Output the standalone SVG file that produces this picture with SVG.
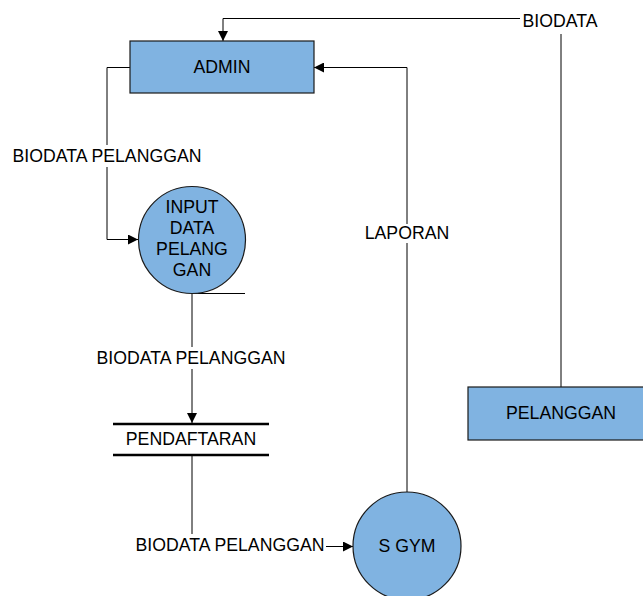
<svg xmlns="http://www.w3.org/2000/svg" width="643" height="596" viewBox="0 0 643 596">
<defs>
<marker id="arr" viewBox="0 0 10 10" refX="10" refY="5" markerWidth="10" markerHeight="10" markerUnits="userSpaceOnUse" orient="auto">
<path d="M0,0 L10,5 L0,10 Z" fill="#000"/>
</marker>
<style>
.t{font-family:"Liberation Sans",Arial,sans-serif;font-size:17.7px;fill:#000;text-anchor:middle;dominant-baseline:central}
.n{fill:#80B3E1;stroke:#1a1a1a;stroke-width:1.2}
.c{fill:none;stroke:#000;stroke-width:1}
.bg{fill:#fff}
.s{stroke:#000;stroke-width:2.5}
</style>
</defs>
<rect width="643" height="596" fill="#fff"/>
<g id="connectors">
<path class="c" d="M561,387 V18.5 H223 V41" marker-end="url(#arr)"/>
<path class="c" d="M130,67.5 H107 V239.5 H138" marker-end="url(#arr)"/>
<path class="c" d="M407,492 V67.5 H314" marker-end="url(#arr)"/>
<path class="c" d="M192,293.5 H245"/>
<path class="c" d="M192,293 V423" marker-end="url(#arr)"/>
<path class="c" d="M192,455 V546.5 H353" marker-end="url(#arr)"/>
<rect class="bg" x="520" y="9" width="80" height="25"/>
<text class="t" x="560" y="21">BIODATA</text>
<rect class="bg" x="10" y="145" width="194" height="22"/>
<text class="t" x="107" y="156">BIODATA PELANGGAN</text>
<rect class="bg" x="363" y="224" width="88" height="19"/>
<text class="t" x="407" y="233">LAPORAN</text>
<rect class="bg" x="94" y="347" width="194" height="22"/>
<text class="t" x="191" y="358">BIODATA PELANGGAN</text>
<rect class="bg" x="133" y="534" width="193" height="22"/>
<text class="t" x="230" y="545">BIODATA PELANGGAN</text>
</g>
<g id="admin">
<rect class="n" x="130" y="41" width="184" height="52"/>
<text class="t" x="222" y="67">ADMIN</text>
</g>
<g id="input-data-pelanggan">
<circle class="n" cx="192" cy="240" r="53.5"/>
<text class="t" x="192" y="207">INPUT</text>
<text class="t" x="192" y="228">DATA</text>
<text class="t" x="192" y="249">PELANG</text>
<text class="t" x="192" y="270">GAN</text>
</g>
<g id="pendaftaran">
<line class="s" x1="113" y1="424" x2="269" y2="424"/>
<line class="s" x1="113" y1="455" x2="269" y2="455"/>
<text class="t" x="191" y="439">PENDAFTARAN</text>
</g>
<g id="pelanggan">
<rect class="n" x="468" y="387" width="180" height="53"/>
<text class="t" x="561" y="413">PELANGGAN</text>
</g>
<g id="s-gym">
<circle class="n" cx="407" cy="546" r="54"/>
<text class="t" x="407" y="546">S GYM</text>
</g>
</svg>
